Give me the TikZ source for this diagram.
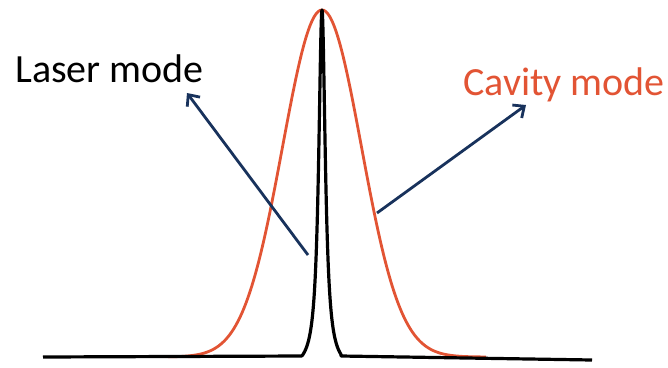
\documentclass[tikz,border=0pt]{standalone}
\usepackage{fontspec}
\setmainfont{Carlito}
\usetikzlibrary{calc, arrows.meta}

\definecolor{cavityred}{RGB}{226,84,52}
\definecolor{arrownavy}{RGB}{24,50,92}

\begin{document}
\begin{tikzpicture}[x=1pt, y=-1pt, line join=round,
    lasercurve/.style={black, line width=3.2pt},
    cavitycurve/.style={cavityred, line width=2.8pt},
    pointer/.style={arrownavy, line width=2.8pt, -{Straight Barb[length=9pt,width=16pt]}},
    label/.style={font=\fontsize{40}{42}\selectfont, inner sep=0pt, anchor=base west}]
  \useasboundingbox (0,0) rectangle (668,367);

  % 基线与峰的位置 (像素坐标)
  \coordinate (L0) at (43,357);
  \coordinate (L1) at (302,356);
  \coordinate (R0) at (341,356);
  \coordinate (R1) at (592,360);

  % 腔模: 高斯
  \draw[cavitycurve] plot[domain=168:486, samples=160]
    (\x, {357-347*exp(-0.5*((\x-322)/39.4)^2)});

  % 激光模: 很窄的洛伦兹
  \draw[lasercurve] (L0) -- (L1)
    -- plot[domain=302:341, samples=200]
    (\x, {356-346*(1/(1+((\x-322)/4)^2)-0.038)/0.962})
    -- (R0) -- (R1);

  % 标注
  \node[label] (laser) at (15,82) {Laser mode};
  \node[label, text=cavityred] (cavity) at (463,95) {Cavity mode};

  \coordinate (laserfoot) at (308,255);
  \coordinate (laserhead) at (187,93);
  \coordinate (cavityfoot) at (377,213);
  \coordinate (cavityhead) at (526,105);
  \draw[pointer] (laserfoot) -- (laserhead);
  \draw[pointer] (cavityfoot) -- (cavityhead);
\end{tikzpicture}
\end{document}
